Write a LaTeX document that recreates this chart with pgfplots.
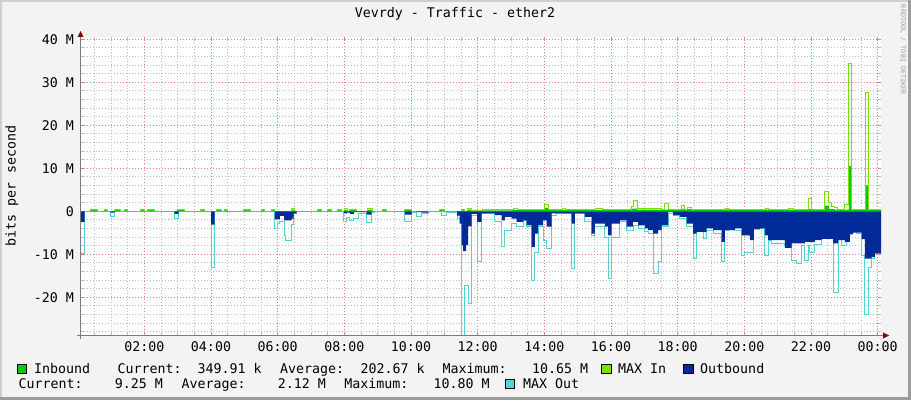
\documentclass[border=0pt]{standalone}
\usepackage{pgfplots}
\pgfplotsset{compat=1.18}
\usepackage{fontspec}
\setmainfont{DejaVu Sans Mono}
\definecolor{bg}{HTML}{F3F3F3}
\definecolor{lightborder}{HTML}{CFCFCF}
\definecolor{darkborder}{HTML}{9C9C9C}
\definecolor{inb}{HTML}{00CC00}
\definecolor{maxin}{HTML}{7AE000}
\definecolor{outb}{HTML}{002A97}
\definecolor{maxout}{HTML}{50D4D4}
\definecolor{mgrid}{HTML}{E88080}
\definecolor{mingrid}{HTML}{BDBDBD}
\definecolor{axisgray}{HTML}{7A7A7A}
\definecolor{arrowred}{HTML}{8B0000}
\definecolor{wm}{HTML}{A0A0A0}
\newcommand{\f}{\fontsize{13.3}{15}\selectfont}
\begin{document}
\begin{tikzpicture}[x=1pt,y=1pt,font=\f]
\fill[bg] (0,0) rectangle (911,400);
\fill[lightborder] (0,398) rectangle (911,400);
\fill[lightborder] (0,0) rectangle (2,400);
\fill[darkborder] (908,0) rectangle (911,400);
\fill[darkborder] (0,0) rectangle (911,3);
\fill[white] (81,64.5) rectangle (881,363.3);
\begin{axis}[
  at={(81pt,64.5pt)}, anchor=south west,
  scale only axis, width=800pt, height=298.8pt,
  xmin=0.1, xmax=24.1, ymin=-28.9, ymax=40.6,
  axis line style={draw=none},
  xtick={2,4,...,24},
  xticklabels={02:00,04:00,06:00,08:00,10:00,12:00,14:00,16:00,18:00,20:00,22:00,00:00},
  minor xtick={0.5,1,1.5,2.5,3,3.5,4.5,5,5.5,6.5,7,7.5,8.5,9,9.5,10.5,11,11.5,12.5,13,13.5,14.5,15,15.5,16.5,17,17.5,18.5,19,19.5,20.5,21,21.5,22.5,23,23.5},
  ytick={-20,-10,0,10,20,30,40},
  yticklabels={-20 M,-10 M,0,10 M,20 M,30 M,40 M},
  minor ytick={-28,-26,-24,-22,-18,-16,-14,-12,-8,-6,-4,-2,2,4,6,8,12,14,16,18,22,24,26,28,32,34,36,38},
  grid=both,
  major grid style={mgrid, line width=0.8pt, dash pattern=on 1pt off 2pt},
  minor grid style={mingrid, line width=0.8pt, dash pattern=on 1pt off 2pt},
  tick align=inside,
  major tick length=3pt, minor tick length=3pt,
  major tick style={mgrid, line width=0.8pt},
  minor tick style={mingrid, line width=0.8pt},
  tick label style={font=\f, text=black},
  xticklabel style={anchor=center, yshift=-11.5pt, inner sep=0pt},
  yticklabel style={anchor=east, xshift=-7pt, inner sep=0pt},
  every axis plot/.append style={x filter/.expression={x+0.036}},
]
% Inbound
\addplot[const plot, fill=inb, draw=none] coordinates {
(0.06,0) (0.36,0.3) (0.57,0) (0.78,0.3) (0.87,0) (1.08,0.3) (1.26,0) (1.38,0.3)
(1.47,0) (1.86,0.3) (1.98,0) (2.07,0.3) (2.28,0) (2.97,0.3) (3.18,0) (3.66,0.3)
(3.78,0) (4.14,0.3) (4.29,0) (4.38,0.3) (4.47,0) (4.95,0.3) (5.16,0) (5.49,0.3)
(5.58,0) (5.79,0.3) (5.88,0) (6.39,0.4) (6.48,0) (7.17,0.3) (7.29,0) (7.47,0.3)
(7.59,0) (7.77,0.3) (7.89,0) (7.98,0.3) (8.07,0) (8.13,0.3) (8.34,0) (8.67,0.4)
(8.82,0) (9.12,0.3) (9.24,0) (9.78,0.3) (9.99,0) (10.83,0.3) (10.98,0) (11.49,0.3)
(11.58,0) (11.67,0.4) (11.79,0.1) (12.1,0.2) (13.0,0.3) (13.96,0.8) (14.08,0.3) (15.0,0.3)
(16.0,0.4) (16.58,0.6) (16.75,0.4) (17.5,0.4) (18.0,0.5) (19.0,0.4) (20.0,0.4) (21.0,0.4)
(21.9,0.5) (22.0,0.4) (22.38,1.3) (22.5,0.5) (22.68,0.4) (23.10,10.5) (23.18,0.4) (23.59,6.0)
(23.69,0.4) (24.1,0.4)
} \closedcycle;
% MAX In
\addplot[const plot, draw=maxin, line width=1pt] coordinates {
(0.06,0) (0.36,0.4) (0.57,0) (0.78,0.4) (0.87,0) (1.08,0.4) (1.26,0) (1.38,0.4)
(1.47,0) (1.86,0.4) (1.98,0) (2.07,0.4) (2.28,0) (2.97,0.4) (3.18,0) (3.66,0.4)
(3.78,0) (4.14,0.4) (4.29,0) (4.38,0.4) (4.47,0) (4.95,0.4) (5.16,0) (5.49,0.4)
(5.58,0) (5.79,0.4) (5.88,0) (6.39,0.7) (6.48,0) (7.17,0.4) (7.29,0) (7.47,0.4)
(7.59,0) (7.77,0.4) (7.89,0) (7.98,0.6) (8.07,0) (8.13,0.4) (8.34,0) (8.67,0.6)
(8.82,0) (9.12,0.4) (9.24,0) (9.78,0.5) (9.99,0) (10.83,0.4) (10.98,0) (11.49,0.5)
(11.58,0) (11.67,0.6) (11.79,0.2) (12.1,0.3) (13.05,0.6) (13.17,0.4) (13.96,1.6) (14.08,0.5)
(14.5,0.6) (14.6,0.4) (15.5,0.6) (15.7,0.5) (16.58,1.0) (16.65,2.6) (16.75,0.6) (17.18,0.6)
(17.48,0.5) (17.56,1.8) (17.68,0.5) (18.08,1.4) (18.18,0.5) (18.27,0.8) (18.39,0.5) (19.4,0.6)
(19.5,0.5) (20.6,0.6) (20.7,0.5) (21.3,0.6) (21.45,0.5) (21.89,3.0) (21.99,0.5) (22.38,4.7)
(22.5,2.0) (22.58,1.1) (22.68,0.9) (22.75,0.5) (22.98,1.6) (23.10,34.3) (23.18,0.5) (23.59,27.6)
(23.69,0.5) (24.1,0.5)
};
% MAX Out
\addplot[const plot, draw=maxout, line width=1pt] coordinates {
(0.06,-9.8) (0.17,-0.1) (0.95,-1.2) (1.07,-0.1) (2.87,-1.7) (2.99,-0.1) (3.97,-13.0) (4.07,-0.1)
(5.88,-4.0) (5.96,-2.8) (6.03,-2.3) (6.16,-5.7) (6.20,-6.7) (6.38,-3.1) (6.44,-0.5) (6.53,-0.1)
(7.95,-2.5) (8.04,-1.5) (8.13,-2.2) (8.25,-1.7) (8.38,-0.6) (8.63,-2.6) (8.78,-0.3) (8.88,-0.1)
(9.78,-2.3) (9.98,-0.2) (10.13,-1.3) (10.28,-0.5) (10.48,-0.1) (10.88,-1.1) (11.03,-0.2)
(11.35,-1.7) (11.48,-30) (11.58,-17.2) (11.68,-21.5) (11.78,-0.9) (11.95,-11.6) (12.08,-0.5)
(12.48,-2.5) (12.68,-8.3) (12.78,-4.4) (12.98,-2.9) (13.13,-3.6) (13.33,-2.1) (13.43,-3.6)
(13.58,-16.0) (13.68,-9.5) (13.78,-3.6) (13.93,-6.7) (14.03,-8.7) (14.18,-0.9) (14.33,-0.5)
(14.78,-13.3) (14.88,-0.5) (15.18,-2.5) (15.38,-5.6) (15.48,-3.6) (15.78,-6.0) (15.88,-15.7)
(15.98,-6.0) (16.23,-2.5) (16.43,-4.5) (16.63,-3.3) (16.78,-4.0) (16.98,-4.8) (17.08,-5.2)
(17.23,-14.5) (17.38,-11.8) (17.48,-3.6) (17.68,-0.5) (17.83,-0.9) (18.03,-1.7) (18.23,-3.6)
(18.43,-11.0) (18.53,-4.4) (18.73,-6.4) (18.83,-4.4) (19.03,-5.2) (19.28,-11.8) (19.38,-4.4)
(19.53,-3.6) (19.68,-4.5) (19.88,-10.2) (19.98,-9.5) (20.25,-4.0) (20.58,-10.2) (20.68,-6.7)
(20.78,-7.5) (21.18,-8.0) (21.28,-6.7) (21.38,-11.4) (21.53,-12.2) (21.68,-7.9) (21.78,-11.4)
(21.88,-7.9) (21.93,-9.5) (22.08,-7.8) (22.28,-6.4) (22.63,-18.8) (22.78,-5.6) (22.88,-7.9)
(23.03,-5.4) (23.13,-4.4) (23.33,-5.2) (23.48,-10.2) (23.58,-24.0) (23.68,-13.0) (23.78,-11.0)
(23.88,-9.8) (24.1,-9.8)
};
% Outbound
\addplot[const plot, fill=outb, draw=none] coordinates {
(0.06,-2.5) (0.17,0) (0.95,-0.3) (1.07,0) (2.87,-0.6) (2.99,0) (3.97,-3.1) (4.07,0)
(5.88,-1.9) (6.03,-1.1) (6.16,-2.1) (6.38,-1.7) (6.44,-0.5) (6.53,0) (7.95,-0.5) (8.04,-0.3)
(8.13,-0.6) (8.25,-0.2) (8.63,-0.8) (8.78,0) (9.78,-0.8) (9.98,0) (10.13,-0.2) (10.28,-0.3)
(10.48,0) (11.35,-1.0) (11.42,-2.9) (11.48,-7.9) (11.53,-9.3) (11.62,-7.9) (11.68,-3.5) (11.78,-0.6)
(11.95,-2.5) (12.08,-0.5) (12.48,-0.9) (12.68,-2.1) (12.78,-1.3) (12.98,-1.7) (13.13,-2.5)
(13.33,-2.1) (13.43,-3.3) (13.58,-8.3) (13.68,-5.2) (13.78,-3.3) (13.93,-2.1) (14.03,-3.6)
(14.18,-0.5) (14.78,-2.9) (14.88,-0.5) (15.18,-1.3) (15.38,-5.2) (15.48,-2.9) (15.78,-3.6)
(15.88,-5.6) (15.98,-2.9) (16.23,-2.1) (16.43,-3.6) (16.63,-2.5) (16.78,-3.3) (16.98,-4.0)
(17.08,-4.4) (17.23,-5.2) (17.38,-4.4) (17.48,-3.3) (17.68,-0.2) (17.83,-0.9) (18.03,-1.3)
(18.23,-2.9) (18.43,-5.2) (18.53,-4.8) (18.83,-4.0) (19.03,-4.4) (19.28,-7.1) (19.38,-4.4)
(19.68,-4.0) (19.88,-5.6) (20.13,-6.7) (20.25,-4.2) (20.43,-4.0) (20.58,-5.6) (20.68,-6.7)
(21.18,-8.5) (21.38,-7.5) (21.78,-7.1) (22.08,-6.7) (22.28,-6.4) (22.63,-7.5) (22.78,-6.7)
(22.98,-7.1) (23.13,-5.4) (23.23,-5.0) (23.48,-6.5) (23.58,-11.0) (23.78,-10.6) (23.88,-9.8)
(24.1,-9.8)
} \closedcycle;
\end{axis}
% axis lines and arrows
\draw[axisgray, line width=1pt] (80.5,61) -- (80.5,365);
\draw[axisgray, line width=1pt] (77,64.5) -- (884,64.5);
\fill[arrowred] (77.5,363) -- (83.5,363) -- (80.5,369) -- cycle;
\fill[arrowred] (883,61.5) -- (883,67.5) -- (889,64.5) -- cycle;
% titles
\node at (455,386) {Vevrdy - Traffic - ether2};
\node[rotate=90] at (12,214) {bits per second};
\node[rotate=-90, text=wm, font=\fontsize{6.8}{8}\selectfont] at (903,350) {RRDTOOL / TOBI OETIKER};
% legend line 1
\fill[inb, draw=black, line width=0.8pt] (17.5,27) rectangle (26.5,36);
\node[anchor=base west, inner sep=0] at (34,27) {Inbound};
\node[anchor=base west, inner sep=0] at (117.3,27) {Current:};
\node[anchor=base west, inner sep=0] at (197.3,27) {349.91 k};
\node[anchor=base west, inner sep=0] at (280,27) {Average:};
\node[anchor=base west, inner sep=0] at (360.4,27) {202.67 k};
\node[anchor=base west, inner sep=0] at (442.3,27) {Maximum:};
\node[anchor=base west, inner sep=0] at (532,27) {10.65 M};
\fill[maxin, draw=black, line width=0.8pt] (601.5,27) rectangle (611,36);
\node[anchor=base west, inner sep=0] at (618,27) {MAX In};
\fill[outb, draw=black, line width=0.8pt] (683.5,27) rectangle (693,36);
\node[anchor=base west, inner sep=0] at (700,27) {Outbound};
% legend line 2
\node[anchor=base west, inner sep=0] at (18.5,12) {Current:};
\node[anchor=base west, inner sep=0] at (114.6,12) {9.25 M};
\node[anchor=base west, inner sep=0] at (181.5,12) {Average:};
\node[anchor=base west, inner sep=0] at (277.7,12) {2.12 M};
\node[anchor=base west, inner sep=0] at (344.2,12) {Maximum:};
\node[anchor=base west, inner sep=0] at (433.5,12) {10.80 M};
\fill[maxout, draw=black, line width=0.8pt] (505,12) rectangle (514.5,21);
\node[anchor=base west, inner sep=0] at (523,12) {MAX Out};
\pgfresetboundingbox
\useasboundingbox (0,0) rectangle (911,400);
\end{tikzpicture}
\end{document}
